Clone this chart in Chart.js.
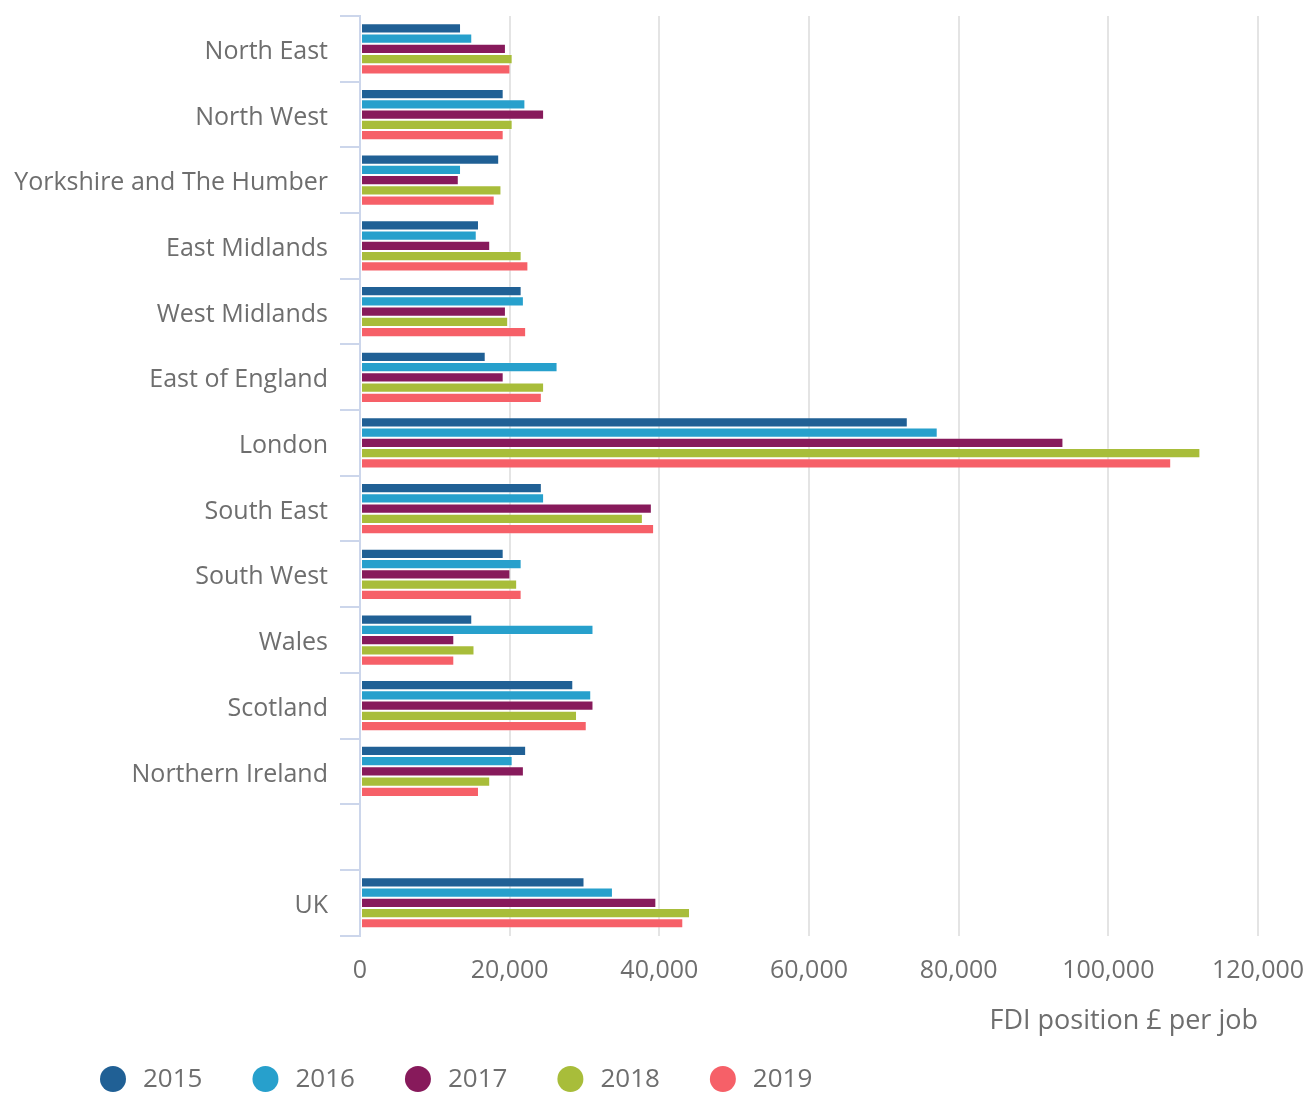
<!DOCTYPE html>
<html>
<head>
<meta charset="utf-8">
<script src="https://cdn.jsdelivr.net/npm/chart.js@4/dist/chart.umd.min.js"></script>
<style>
  html, body { margin: 0; padding: 0; background: #ffffff; }
  #wrap { position: relative; width: 1311px; height: 1093px; }
</style>
</head>
<body>
<div id="wrap"><canvas id="fdi"></canvas></div>
<script>
// Regions (blank entry separates the UK total)
const regions = [
  'North East', 'North West', 'Yorkshire and The Humber', 'East Midlands',
  'West Midlands', 'East of England', 'London', 'South East', 'South West',
  'Wales', 'Scotland', 'Northern Ireland', '', 'UK'
];

const years = ['2015', '2016', '2017', '2018', '2019'];

// FDI position, £ per job
const fdi2015 = [13500, 19200, 18600, 15900, 21600, 16800, 73200, 24300, 19200, 15000, 28500, 22200, null, 30000];
const fdi2016 = [15000, 22100, 13500, 15600, 21900, 26400, 77200, 24600, 21600, 31200, 30900, 20400, null, 33800];
const fdi2017 = [19500, 24600, 13200, 17400, 19500, 19200, 94000, 39000, 20100, 12600, 31200, 21900, null, 39600];
const fdi2018 = [20400, 20400, 18900, 21600, 19800, 24600, 112300, 37800, 21000, 15300, 29000, 17400, null, 44100];
const fdi2019 = [20100, 19200, 18000, 22500, 22200, 24300, 108400, 39300, 21600, 12600, 30300, 15900, null, 43200];

const seriesValues = [fdi2015, fdi2016, fdi2017, fdi2018, fdi2019];
const seriesColours = ['#206095', '#27a0cc', '#871a5b', '#a8bd3a', '#f66068'];

const xTickStep = 20000;
const xMax = 120000;

const FONT = "'Open Sans', 'Noto Sans', sans-serif";
const TEXT = '#6e6e6e';

// Legend drawn along the bottom edge with round markers
const bottomLegend = {
  id: 'bottomLegend',
  afterDraw(chart) {
    const ctx = chart.ctx;
    const y = 1079;
    let x = 100;
    ctx.save();
    ctx.font = '26px ' + FONT;
    ctx.textBaseline = 'middle';
    ctx.textAlign = 'left';
    chart.data.datasets.forEach(ds => {
      ctx.beginPath();
      ctx.fillStyle = ds.backgroundColor;
      ctx.arc(x + 13, y, 13, 0, Math.PI * 2);
      ctx.fill();
      ctx.fillStyle = TEXT;
      ctx.fillText(ds.label, x + 43, y + 1);
      x += 43 + ctx.measureText(ds.label).width + 50;
    });
    ctx.restore();
  }
};

const canvas = document.getElementById('fdi');
canvas.width = 1311;
canvas.height = 1093;

new Chart(canvas, {
  type: 'bar',
  data: {
    labels: regions,
    datasets: years.map((yr, i) => ({
      label: yr,
      data: seriesValues[i],
      backgroundColor: seriesColours[i],
      borderColor: 'rgba(255,255,255,0.22)',
      borderWidth: 1,
      borderSkipped: false,
      categoryPercentage: 0.78,
      barPercentage: 1.0
    }))
  },
  options: {
    indexAxis: 'y',
    responsive: false,
    animation: false,
    devicePixelRatio: 1,
    layout: { padding: { top: 16, right: 53, bottom: 47, left: 0 } },
    plugins: {
      legend: { display: false },
      tooltip: { enabled: false }
    },
    scales: {
      x: {
        min: 0,
        max: xMax,
        ticks: {
          stepSize: xTickStep,
          font: { family: FONT, size: 25 },
          color: TEXT,
          padding: 20,
          callback: v => v.toLocaleString('en-GB')
        },
        grid: { color: '#e4e4e4', lineWidth: 2, drawTicks: false },
        border: { display: false },
        title: {
          display: true,
          text: 'FDI position £ per job',
          align: 'end',
          color: TEXT,
          font: { family: FONT, size: 27 },
          padding: { top: 0, bottom: 8 }
        },
        afterFit(scale) { scale.paddingLeft = 0; scale.paddingRight = 0; }
      },
      y: {
        offset: true,
        ticks: {
          font: { family: FONT, size: 25 },
          color: TEXT,
          padding: 12,
          labelOffset: 3,
          autoSkip: false
        },
        grid: {
          offset: true,
          drawOnChartArea: false,
          drawTicks: true,
          tickLength: 20,
          tickColor: '#ccd6eb',
          lineWidth: 2
        },
        border: { display: true, color: '#ccd6eb', width: 2 },
        afterFit(scale) {
          scale.width = 360;
          scale.paddingTop = 0;
          scale.paddingBottom = 0;
        }
      }
    }
  },
  plugins: [bottomLegend]
});
</script>
</body>
</html>
